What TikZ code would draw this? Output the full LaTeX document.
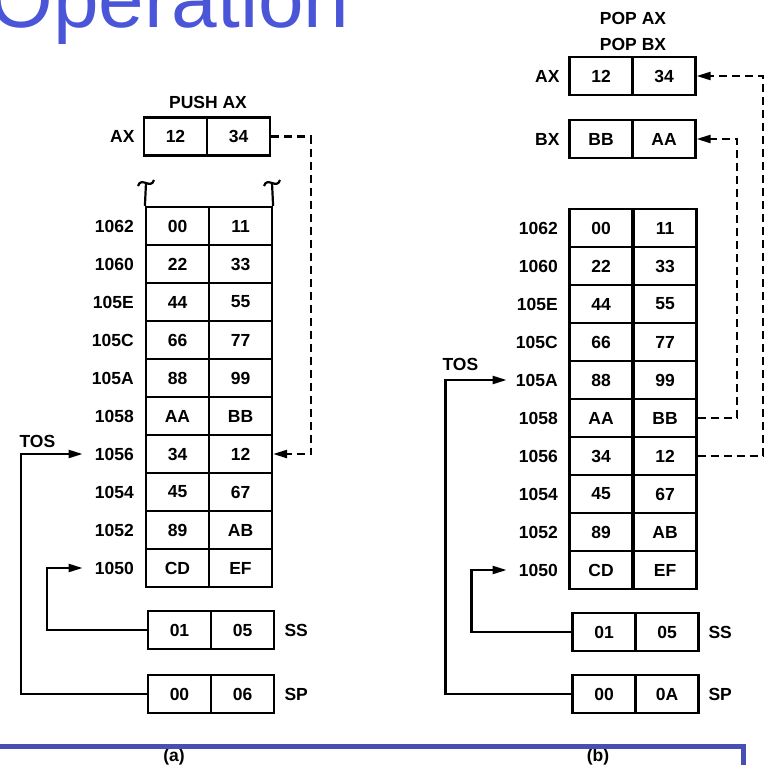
\documentclass[tikz,border=0pt]{standalone}
\usepackage{fontspec}
\setmainfont{Liberation Sans}
\usetikzlibrary{arrows.meta}
\definecolor{titleblue}{RGB}{75,85,216}
\definecolor{ruleblue}{RGB}{72,78,178}

\begin{document}
\begin{tikzpicture}[x=1pt, y=-1pt, every node/.style={font=\fontsize{17.5}{18}\selectfont\bfseries}, >={Triangle[length=14pt,width=8pt]},
	cell/.style={draw, line width=2.2pt, minimum width=63pt, minimum height=38pt, inner sep=0pt},
	addr/.style={anchor=east, text width=44pt, align=right, inner xsep=2pt},
	conn/.style={line width=2.2pt},
	dashconn/.style={line width=2.2pt, dash pattern=on 8pt off 5pt}]
	\useasboundingbox (0,0) rectangle (764,765);
	\node[titleblue, anchor=base east, font=\fontsize{82}{82}\selectfont] (title) at (353,28) {Operation};
	
	\node (push) at (208,102) {PUSH AX};
	\node[cell] (axaL) at (175.5,136.5) {12};
	\node[cell] (axaR) at (238.5,136.5) {34};
	\node[anchor=east] (axa) at (138,136.5) {AX};
	\foreach \ad/\lo/\hi [count=\k from 0] in {1062/00/11, 1060/22/33, 105E/44/55, 105C/66/77, 105A/88/99, 1058/AA/BB, 1056/34/12, 1054/45/67, 1052/89/AB, 1050/CD/EF} {
		\node[cell] (aL\ad) at (177.5,226+38*\k) {\lo};
		\node[cell] (aR\ad) at (240.5,226+38*\k) {\hi};
		\node[addr] (aA\ad) at (136,226+38*\k) {\ad};
	}
	\draw[conn] (aL1062.north west) -- (146,183) (138,186) .. controls (141,176) and (151,190) .. (154,180);
	\draw[conn] (aR1062.north east) -- (272,183) (264,186) .. controls (267,176) and (277,190) .. (280,180);
	\node[cell] (ssaL) at (179.5,630) {01};
	\node[cell] (ssaR) at (242.5,630) {05};
	\node[anchor=west] (ssa) at (281,630) {SS};
	\node[cell] (spaL) at (179.5,694) {00};
	\node[cell] (spaR) at (242.5,694) {06};
	\node[anchor=west] (spa) at (281,694) {SP};
	\node[anchor=base west] (tosa) at (16,447) {TOS};
	\draw[conn, ->, shorten >=5pt] (spaL.west) -- ++(-126,0) |- (aA1056.west);
	\draw[conn, ->, shorten >=5pt] (ssaL.west) -- ++(-100,0) |- (aA1050.west);
	\draw[dashconn, ->] (axaR.east) -- ++(40,0) |- (aR1056.east);
	\node (capa) at (174,757) {(a)};
	
	\node (popax) at (633,18) {POP AX};
	\node (popbx) at (633,44) {POP BX};
	\node[cell] (axbL) at (601,76) {12};
	\node[cell] (axbR) at (664,76) {34};
	\node[anchor=east] (axb) at (563,76) {AX};
	\node[cell] (bxbL) at (601,139) {BB};
	\node[cell] (bxbR) at (664,139) {AA};
	\node[anchor=east] (bxb) at (563,139) {BX};
	\foreach \ad/\lo/\hi [count=\k from 0] in {1062/00/11, 1060/22/33, 105E/44/55, 105C/66/77, 105A/88/99, 1058/AA/BB, 1056/34/12, 1054/45/67, 1052/89/AB, 1050/CD/EF} {
		\node[cell] (bL\ad) at (601,228+38*\k) {\lo};
		\node[cell] (bR\ad) at (665,228+38*\k) {\hi};
		\node[addr] (bA\ad) at (560,228+38*\k) {\ad};
	}
	\node[cell] (ssbL) at (604,632) {01};
	\node[cell] (ssbR) at (667,632) {05};
	\node[anchor=west] (ssb) at (705,632) {SS};
	\node[cell] (spbL) at (604,694) {00};
	\node[cell] (spbR) at (667,694) {0A};
	\node[anchor=west] (spb) at (705,694) {SP};
	\node[anchor=base west] (tosb) at (439,370) {TOS};
	\draw[conn, ->, shorten >=5pt] (spbL.west) -- ++(-126,0) |- (bA105A.west);
	\draw[conn, ->, shorten >=5pt] (ssbL.west) -- ++(-100,0) |- (bA1050.west);
	\draw[dashconn, ->] (bR1058.east) -- ++(39,0) |- (bxbR.east);
	\draw[dashconn, ->] (bR1056.east) -- ++(65,0) |- (axbR.east);
	\node (capb) at (598,757) {(b)};
	
	\draw[ruleblue, line width=5pt] (0,746) -- (743,746) -- (743,770);
\end{tikzpicture}
\end{document}
